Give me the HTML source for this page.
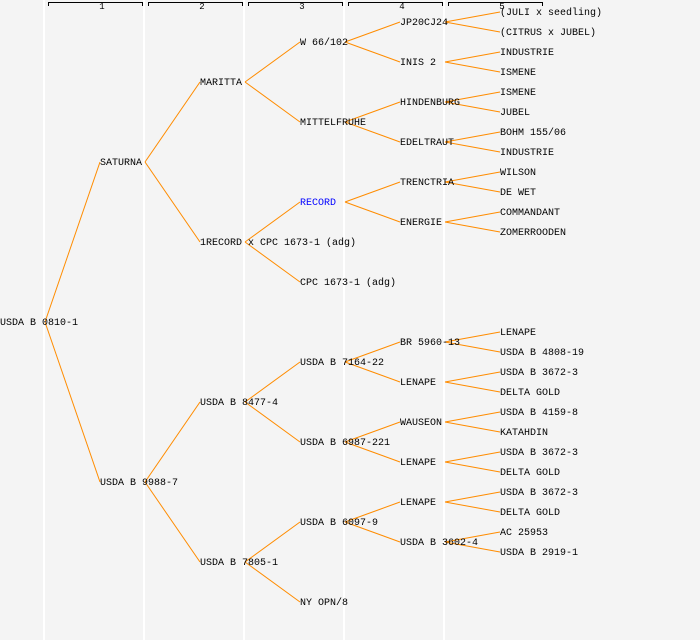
<!DOCTYPE html>
<html><head><meta charset="utf-8"><style>
html,body{margin:0;padding:0;background:#f4f4f4;}
svg{display:block;}
text{font-family:"Liberation Mono","DejaVu Sans Mono",monospace;font-size:10px;fill:#000;}
</style></head><body>
<svg width="700" height="640" xmlns="http://www.w3.org/2000/svg">
<rect width="700" height="640" fill="#f4f4f4"/>
<g stroke="#ffffff" stroke-width="2">
<line x1="44" y1="0" x2="44" y2="640"/><line x1="144" y1="0" x2="144" y2="640"/>
<line x1="244" y1="0" x2="244" y2="640"/><line x1="344" y1="0" x2="344" y2="640"/>
<line x1="444" y1="0" x2="444" y2="640"/>
</g>
<g stroke="#000" stroke-width="1" fill="none">
<path d="M48.5 6V2.5H142.5V6"/><path d="M148.5 6V2.5H242.5V6"/><path d="M248.5 6V2.5H342.5V6"/><path d="M348.5 6V2.5H442.5V6"/><path d="M448.5 6V2.5H542.5V6"/>
</g>
<g text-anchor="middle">
<text x="102" y="9" style="font-size:9px">1</text><text x="202" y="9" style="font-size:9px">2</text><text x="302" y="9" style="font-size:9px">3</text><text x="402" y="9" style="font-size:9px">4</text><text x="502" y="9" style="font-size:9px">5</text>
</g>
<g stroke="#ff8c00" stroke-width="1" fill="none" id="L"></g>
<g id="T"></g>
<script>
var nodes=[
[0,322,"USDA B 0810-1",null],
[1,162,"SATURNA",0],[1,482,"USDA B 9988-7",0],
[2,82,"MARITTA",1],[2,242,"1RECORD x CPC 1673-1 (adg)",1],[2,402,"USDA B 8477-4",2],[2,562,"USDA B 7805-1",2],
[3,42,"W 66/102",3],[3,122,"MITTELFRUHE",3],[3,202,"RECORD",4,"#0000ff"],[3,282,"CPC 1673-1 (adg)",4],
[3,362,"USDA B 7164-22",5],[3,442,"USDA B 6987-221",5],[3,522,"USDA B 6097-9",6],[3,602,"NY OPN/8",6],
[4,22,"JP20CJ24",7],[4,62,"INIS 2",7],[4,102,"HINDENBURG",8],[4,142,"EDELTRAUT",8],[4,182,"TRENCTRIA",9],[4,222,"ENERGIE",9],
[4,342,"BR 5960-13",11],[4,382,"LENAPE",11],[4,422,"WAUSEON",12],[4,462,"LENAPE",12],[4,502,"LENAPE",13],[4,542,"USDA B 3602-4",13],
[5,12,"(JULI x seedling)",15],[5,32,"(CITRUS x JUBEL)",15],[5,52,"INDUSTRIE",16],[5,72,"ISMENE",16],
[5,92,"ISMENE",17],[5,112,"JUBEL",17],[5,132,"BOHM 155/06",18],[5,152,"INDUSTRIE",18],
[5,172,"WILSON",19],[5,192,"DE WET",19],[5,212,"COMMANDANT",20],[5,232,"ZOMERROODEN",20],
[5,332,"LENAPE",21],[5,352,"USDA B 4808-19",21],[5,372,"USDA B 3672-3",22],[5,392,"DELTA GOLD",22],
[5,412,"USDA B 4159-8",23],[5,432,"KATAHDIN",23],[5,452,"USDA B 3672-3",24],[5,472,"DELTA GOLD",24],
[5,492,"USDA B 3672-3",25],[5,512,"DELTA GOLD",25],[5,532,"AC 25953",26],[5,552,"USDA B 2919-1",26]
];
var ns="http://www.w3.org/2000/svg",L=document.getElementById("L"),T=document.getElementById("T");
nodes.forEach(function(n){
 var x=n[0]*100,y=n[1];
 if(n[3]!==null){var p=nodes[n[3]];var l=document.createElementNS(ns,"line");
  l.setAttribute("x1",p[0]*100+45);l.setAttribute("y1",p[1]);l.setAttribute("x2",x);l.setAttribute("y2",y);L.appendChild(l);}
 var t=document.createElementNS(ns,"text");t.setAttribute("x",x);t.setAttribute("y",y+3);
 if(n[4])t.setAttribute("style","fill:"+n[4]);t.textContent=n[2];T.appendChild(t);
});
</script>
</svg>
</body></html>
